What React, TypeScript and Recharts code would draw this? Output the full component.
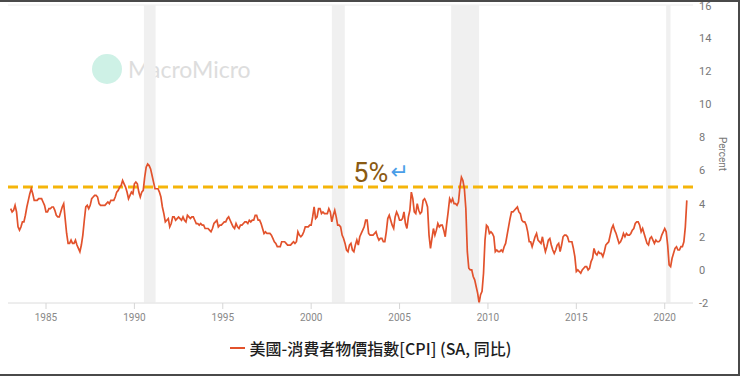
import {
  LineChart,
  Line,
  XAxis,
  YAxis,
  CartesianGrid,
  ReferenceArea,
  ReferenceLine,
  ReferenceDot,
  Legend,
} from "recharts";

// US CPI (SA), year-over-year %, monthly from Jan 1983
const cpi1980s = [
  3.7, 3.5, 3.6, 3.9, 3.5, 2.6, 2.4, 2.6, 2.9, 2.9, 3.3, 3.8,
  4.2, 4.6, 4.9, 4.6, 4.2, 4.2, 4.2, 4.3, 4.3, 4.3, 4.1, 3.9,
  3.5, 3.5, 3.7, 3.7, 3.8, 3.8, 3.6, 3.3, 3.2, 3.2, 3.5, 3.8,
  4.0, 3.1, 2.2, 1.6, 1.6, 1.8, 1.6, 1.6, 1.8, 1.5, 1.3, 1.1,
  1.5, 2.1, 3.0, 3.8, 3.9, 3.7, 3.9, 4.3, 4.4, 4.5, 4.5, 4.4,
  4.0, 3.9, 3.9, 3.9, 3.9, 4.0, 4.1, 4.0, 4.2, 4.2, 4.2, 4.4,
  4.7, 4.8, 5.0, 5.1, 5.4, 5.2, 5.0, 4.7, 4.3, 4.5, 4.7, 4.6,
];
const cpi1990s = [
  5.2, 5.3, 5.2, 4.7, 4.4, 4.7, 4.8, 5.6, 6.2, 6.4, 6.3, 6.1,
  5.7, 5.3, 4.9, 4.9, 4.9, 4.7, 4.4, 3.8, 3.4, 2.9, 3.0, 3.1,
  2.6, 2.8, 3.2, 3.2, 3.0, 3.1, 3.2, 3.1, 3.0, 3.2, 3.0, 2.9,
  3.3, 3.2, 3.1, 3.2, 3.2, 3.0, 2.8, 2.8, 2.7, 2.8, 2.7, 2.7,
  2.5, 2.5, 2.5, 2.4, 2.3, 2.5, 2.8, 2.9, 3.0, 2.6, 2.7, 2.7,
  2.8, 2.9, 2.9, 3.1, 3.2, 3.0, 2.8, 2.6, 2.5, 2.8, 2.6, 2.5,
  2.7, 2.7, 2.8, 2.9, 2.9, 2.8, 3.0, 2.9, 3.0, 3.0, 3.3, 3.3,
  3.0, 3.0, 2.8, 2.5, 2.2, 2.3, 2.2, 2.2, 2.2, 2.1, 1.9, 1.7,
  1.6, 1.4, 1.4, 1.4, 1.7, 1.7, 1.7, 1.6, 1.5, 1.5, 1.5, 1.6,
  1.7, 1.6, 1.7, 2.3, 2.1, 2.0, 2.1, 2.3, 2.6, 2.6, 2.6, 2.7,
];
const cpi2000s = [
  2.7, 3.2, 3.8, 3.1, 3.2, 3.7, 3.7, 3.4, 3.5, 3.4, 3.4, 3.4,
  3.7, 3.5, 2.9, 3.3, 3.6, 3.2, 2.7, 2.7, 2.6, 2.1, 1.9, 1.6,
  1.2, 1.1, 1.5, 1.6, 1.2, 1.1, 1.5, 1.8, 1.5, 2.0, 2.2, 2.4,
  2.6, 3.0, 3.0, 2.2, 2.1, 2.1, 2.1, 2.2, 2.3, 2.0, 1.8, 1.9,
  1.9, 1.7, 1.7, 2.3, 3.1, 3.3, 3.0, 2.7, 2.5, 3.2, 3.5, 3.3,
  3.0, 3.0, 3.1, 3.5, 2.8, 2.5, 3.2, 3.6, 4.7, 4.3, 3.5, 3.4,
  4.0, 3.6, 3.4, 3.5, 4.2, 4.3, 4.1, 3.8, 2.1, 1.3, 1.9, 2.5,
  2.1, 2.4, 2.8, 2.6, 2.7, 2.7, 2.4, 2.0, 2.8, 3.5, 4.3, 4.1,
  4.3, 4.0, 4.0, 3.9, 4.1, 5.0, 5.6, 5.4, 4.9, 3.7, 1.1, 0.1,
  0.0, 0.0, -0.4, -0.6, -1.0, -1.4, -2.0, -1.5, -1.3, -0.2, 1.8, 2.7,
];
const cpi2010s = [
  2.6, 2.2, 2.3, 2.2, 2.0, 1.1, 1.2, 1.1, 1.1, 1.2, 1.1, 1.4,
  1.6, 2.1, 2.6, 3.1, 3.5, 3.5, 3.6, 3.7, 3.8, 3.5, 3.4, 3.0,
  2.9, 2.9, 2.7, 2.3, 1.7, 1.7, 1.4, 1.7, 2.0, 2.2, 1.8, 1.7,
  1.6, 2.0, 1.5, 1.1, 1.4, 1.8, 1.9, 1.5, 1.2, 1.0, 1.2, 1.5,
  1.6, 1.1, 1.5, 2.0, 2.1, 2.1, 2.0, 1.7, 1.7, 1.7, 1.3, 0.8,
  -0.1, 0.0, -0.1, -0.2, 0.0, 0.1, 0.2, 0.2, 0.0, 0.1, 0.5, 0.7,
  1.3, 1.0, 0.9, 1.1, 1.0, 1.0, 0.8, 1.1, 1.5, 1.6, 1.7, 2.1,
  2.5, 2.7, 2.4, 2.2, 1.9, 1.6, 1.7, 1.9, 2.2, 2.0, 2.2, 2.1,
  2.1, 2.2, 2.4, 2.5, 2.8, 2.9, 2.9, 2.7, 2.3, 2.5, 2.2, 1.9,
  1.6, 1.5, 1.9, 2.0, 1.8, 1.6, 1.8, 1.7, 1.7, 1.8, 2.1, 2.3,
];
const cpi2020s = [
  2.5, 2.3, 1.5, 0.3, 0.2, 0.7, 1.0, 1.3, 1.4, 1.2, 1.2, 1.4,
  1.4, 1.7, 2.6, 4.2,
];

const startYear = 1983;
const yearTicks = [1985, 1990, 1995, 2000, 2005, 2010, 2015, 2020];
const percentTicks = [-2, 0, 2, 4, 6, 8, 10, 12, 14, 16];
const recessions: [number, number][] = [
  [1990.54, 1991.2],
  [2001.17, 2001.9],
  [2007.92, 2009.5],
  [2020.08, 2020.33],
];
const threshold = 5;
const seriesName = "美國-消費者物價指數[CPI] (SA, 同比)";

const allValues = [...cpi1980s, ...cpi1990s, ...cpi2000s, ...cpi2010s, ...cpi2020s];
const data = allValues.map((v, i) => ({ t: startYear + i / 12, cpi: v }));

const LINE_COLOR = "#e2522c";

function FivePctLabel(props: any) {
  const { viewBox } = props;
  const x = viewBox.x;
  const y = viewBox.y;
  return (
    <g>
      <text x={x - 2} y={y - 5} fontSize={27} fill="#8a5a12" fontFamily="Roboto, sans-serif">
        5%
      </text>
      <text x={x + 35} y={y - 8} fontSize={22} fill="#4a9ee8" fontFamily="DejaVu Sans, sans-serif">
        ↵
      </text>
    </g>
  );
}

function PercentLabel(props: any) {
  const { viewBox } = props;
  const cx = viewBox.x + 29;
  const cy = viewBox.y + viewBox.height / 2;
  return (
    <text
      x={cx}
      y={cy}
      transform={`rotate(90, ${cx}, ${cy})`}
      textAnchor="middle"
      dominantBaseline="middle"
      fontSize={10}
      fill="#777"
    >
      Percent
    </text>
  );
}

function LegendContent() {
  return (
    <div
      style={{
        height: 40,
        display: "flex",
        alignItems: "center",
        justifyContent: "center",
        fontFamily: "'Noto Sans CJK TC', sans-serif",
        fontSize: 16,
        fontWeight: 500,
        color: "#1e1e1e",
      }}
    >
      <span
        style={{
          display: "inline-block",
          width: 15,
          height: 2,
          background: LINE_COLOR,
          marginRight: 5,
        }}
      />
      {seriesName}
    </div>
  );
}

export default function App() {
  return (
    <div
      style={{
        position: "fixed",
        left: 0,
        top: 0,
        width: 740,
        height: 376,
        background: "#fff",
        fontFamily: "Roboto, sans-serif",
      }}
    >
      <div
        style={{
          position: "absolute",
          left: 92,
          top: 54,
          display: "flex",
          alignItems: "center",
          opacity: 0.9,
          pointerEvents: "none",
        }}
      >
        <div
          style={{
            width: 30,
            height: 30,
            borderRadius: "50%",
            background: "#c9f0e4",
            marginRight: 6,
          }}
        />
        <span style={{ fontSize: 23, color: "#dadada", fontFamily: "Lato, sans-serif" }}>
          MacroMicro
        </span>
      </div>
      <LineChart
        width={740}
        height={376}
        data={data}
        margin={{ top: 5, right: 7, left: 8, bottom: 8 }}
      >
        <CartesianGrid vertical={false} stroke="#ececec" />
        {recessions.map(([a, b]) => (
          <ReferenceArea
            key={a}
            x1={a}
            x2={b}
            yAxisId="pct"
            fill="#f0f0f0"
            fillOpacity={1}
            stroke="none"
          />
        ))}
        <XAxis
          dataKey="t"
          type="number"
          domain={[1982.85, 2021.6]}
          ticks={yearTicks}
          allowDataOverflow
          height={25}
          tick={{ fontSize: 10, fill: "#888" }}
          tickLine={{ stroke: "#d6d6d6" }}
          axisLine={{ stroke: "#e6e6e6" }}
          tickSize={6}
          tickMargin={5}
        />
        <YAxis
          yAxisId="pct"
          orientation="right"
          domain={[-2, 16]}
          ticks={percentTicks}
          width={40}
          axisLine={false}
          tickLine={false}
          tickSize={0}
          tickMargin={6}
          tick={{ fontSize: 11, fill: "#777" }}
          label={{ content: PercentLabel }}
        />
        <ReferenceLine
          yAxisId="pct"
          y={threshold}
          stroke="#f5b50a"
          strokeWidth={3}
          strokeDasharray="10 5"
        />
        <ReferenceDot
          yAxisId="pct"
          x={2002.5}
          y={threshold}
          r={0}
          fill="none"
          stroke="none"
          label={{ content: FivePctLabel }}
        />
        <Line
          yAxisId="pct"
          dataKey="cpi"
          name={seriesName}
          stroke={LINE_COLOR}
          strokeWidth={1.7}
          dot={false}
          isAnimationActive={false}
        />
        <Legend verticalAlign="bottom" height={40} content={LegendContent} />
      </LineChart>
      <div
        style={{
          position: "absolute",
          left: 0,
          top: 0,
          width: 740,
          height: 376,
          boxSizing: "border-box",
          borderTop: "2px solid #4a4a4a",
          borderBottom: "2px solid #4a4a4a",
          borderRight: "2px solid #4a4a4a",
          pointerEvents: "none",
        }}
      />
    </div>
  );
}
